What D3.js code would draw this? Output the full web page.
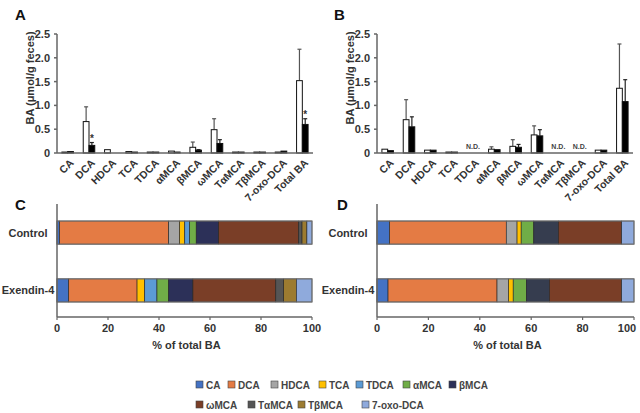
<!DOCTYPE html>
<html><head><meta charset="utf-8">
<script src="https://cdnjs.cloudflare.com/ajax/libs/d3/7.8.5/d3.min.js"></script>
<style>
body{margin:0;background:#fff;}
text{font-family:"Liberation Sans",Arial,sans-serif;font-weight:bold;fill:#333;}
</style></head>
<body><svg id="c" width="640" height="413"></svg>
<script>
const categories = ["CA","DCA","HDCA","TCA","TDCA","αMCA","βMCA","ωMCA","TαMCA","TβMCA","7-oxo-DCA","Total BA"];
// Panel A (null = N.D.)
const aCtrl    = [0.02,0.66,0.07,0.03,0.02,0.04,0.12,0.49,0.02,0.02,0.02,1.52];
const aCtrlErr = [0,0.31,0,0,0,0,0.11,0.23,0,0,0,0.66];
const aEx      = [0.03,0.16,0,0.02,0.02,0.02,0.06,0.20,0.02,0.02,0.04,0.60];
const aExErr   = [0,0.06,0,0,0,0,0.01,0.08,0,0,0,0.12];
const aStar    = [false,true,false,false,false,false,false,false,false,false,false,true];
// Panel B
const bCtrl    = [0.08,0.70,0.06,0.02,null,0.08,0.14,0.38,null,null,0.06,1.36];
const bCtrlErr = [0,0.42,0,0,0,0.05,0.14,0.19,0,0,0,0.93];
const bEx      = [0.05,0.55,0.06,0.02,null,0.07,0.12,0.36,null,null,0.06,1.08];
const bExErr   = [0,0.21,0,0,0,0,0.06,0.13,0,0,0,0.46];
const yTicks = [0,0.5,1.0,1.5,2.0,2.5];
// Panels C, D (% of total BA)
const species = categories.slice(0,11);
const colors = ["#4472C4","#E47B44","#A5A5A5","#FFC000","#5B9BD5","#70AD47","#2C3058","#7A3E27","#555555","#9C7B30","#8FAADC"];
const colorsD = ["#4472C4","#E47B44","#A5A5A5","#FFC000","#5B9BD5","#70AD47","#363D4F","#7A3E27","#555555","#9C7B30","#8FAADC"];
const groups = ["Control","Exendin-4"];
const cControl = [1.0,42.8,4.3,2.0,1.9,2.6,8.8,31.4,1.3,1.9,2.0];
const cExendin = [4.6,26.8,0,3.0,4.8,4.6,9.5,32.5,3.1,5.0,6.1];
const dControl = [4.9,45.4,4.2,1.6,0,4.9,9.6,24.6,0,0,4.8];
const dExendin = [4.3,42.4,4.5,1.8,0,5.1,9.0,28.1,0,0,4.8];
const xTicks = [0,20,40,60,80,100];

const svg = d3.select("#c");
const axisCol = "#666";

function barPanel(ox, label, lx, ctrl, ctrlErr, ex, exErr, star){
  const g = svg.append("g");
  const x0 = ox+57, x1 = ox+313;
  const x = d3.scaleBand().domain(categories).range([x0,x1]).paddingInner(0.46).paddingOuter(0.23);
  const y = d3.scaleLinear().domain([0,2.5]).range([153,34]);
  const bw = x.bandwidth()/2;
  g.append("text").attr("x",ox+lx).attr("y",20).style("font-size","15px").style("fill","#111").text(label);
  g.append("line").attr("x1",x0).attr("x2",x0).attr("y1",y(2.5)).attr("y2",y(0)).attr("stroke",axisCol).attr("stroke-width",1.5);
  yTicks.forEach(t=>{
    g.append("line").attr("x1",x0-3).attr("x2",x0).attr("y1",y(t)).attr("y2",y(t)).attr("stroke",axisCol).attr("stroke-width",1.5);
    g.append("text").attr("x",x0-7).attr("y",y(t)+4).attr("text-anchor","end").style("font-size","11px").text(t===0?"0":t.toFixed(1));
  });
  g.append("text").attr("transform",`translate(${ox+34},78) rotate(-90)`).attr("text-anchor","middle").style("font-size","11px").text("BA (μmol/g feces)");
  categories.forEach((c,i)=>{
    const xc = x(c);
    if(ctrl[i]===null){
      g.append("text").attr("x",xc+bw).attr("y",y(0)-4).attr("text-anchor","middle").style("font-size","7px").style("fill","#444").text("N.D.");
      return;
    }
    const draw=(v,e,xs,fill)=>{
      const ec = fill==="#fff"?"#555":"#222";
      if(e>0){
        g.append("line").attr("x1",xs+bw/2).attr("x2",xs+bw/2).attr("y1",y(v)).attr("y2",y(v+e)).attr("stroke",ec).attr("stroke-width",1.2);
        g.append("line").attr("x1",xs+bw/2-2).attr("x2",xs+bw/2+2).attr("y1",y(v+e)).attr("y2",y(v+e)).attr("stroke",ec).attr("stroke-width",1.2);
      }
      if(v>0) g.append("rect").attr("x",xs).attr("y",y(v)).attr("width",bw).attr("height",y(0)-y(v)).attr("fill",fill).attr("stroke","#111").attr("stroke-width",1);
    };
    draw(ctrl[i],ctrlErr[i],xc,"#fff");
    draw(ex[i],exErr[i],xc+bw,"#000");
    if(star && star[i]){
      g.append("text").attr("x",xc+bw*1.5).attr("y",y(ex[i]+exErr[i])-1).attr("text-anchor","middle").style("font-size","10px").text("*");
    }
  });
  g.append("line").attr("x1",x0).attr("x2",x1).attr("y1",y(0)).attr("y2",y(0)).attr("stroke",axisCol).attr("stroke-width",1.5);
  categories.forEach(c=>{
    g.append("text").attr("transform",`translate(${x(c)+bw+4},${y(0)+8}) rotate(-45)`).attr("text-anchor","end").attr("dy","0.35em").style("font-size","10.5px").text(c);
  });
}
barPanel(0,"A",15,aCtrl,aCtrlErr,aEx,aExErr,aStar);
barPanel(320,"B",14,bCtrl,bCtrlErr,bEx,bExErr,null);

function stackPanel(ox, right, label, lx, rows, cols){
  const g = svg.append("g");
  const x0 = ox+57;
  const x = d3.scaleLinear().domain([0,100]).range([x0,ox+right]);
  const y = d3.scaleBand().domain(groups).range([221,302]).paddingInner(0.6).paddingOuter(0);
  g.append("text").attr("x",ox+lx).attr("y",210).style("font-size","15px").style("fill","#111").text(label);
  rows.forEach((vals,ri)=>{
    let acc=0;
    const yy = y(groups[ri]);
    vals.forEach((v,k)=>{
      if(v>0){
        g.append("rect").attr("x",x(acc)).attr("y",yy).attr("width",x(acc+v)-x(acc)).attr("height",y.bandwidth()).attr("fill",cols[k]).attr("stroke","#222").attr("stroke-width",0.6);
      }
      acc+=v;
    });
    g.append("rect").attr("x",x(0)).attr("y",yy).attr("width",x(100)-x(0)).attr("height",y.bandwidth()).attr("fill","none").attr("stroke","#777").attr("stroke-width",1);
    g.append("text").attr("x",ox+28).attr("y",yy+y.bandwidth()/2+4).attr("text-anchor","middle").style("font-size","11px").text(groups[ri]);
  });
  g.append("line").attr("x1",x0).attr("x2",x0).attr("y1",204).attr("y2",317).attr("stroke",axisCol).attr("stroke-width",1.5);
  g.append("line").attr("x1",x0).attr("x2",x(100)).attr("y1",317).attr("y2",317).attr("stroke",axisCol).attr("stroke-width",1.5);
  xTicks.forEach(t=>{
    g.append("line").attr("x1",x(t)).attr("x2",x(t)).attr("y1",317).attr("y2",320).attr("stroke",axisCol).attr("stroke-width",1.2);
    g.append("text").attr("x",Math.min(x(t),627)).attr("y",332).attr("text-anchor","middle").style("font-size","11px").text(t);
  });
  g.append("text").attr("x",(x0+x(100))/2+2).attr("y",349).attr("text-anchor","middle").style("font-size","11px").text("% of total BA");
}
stackPanel(0,312,"C",15,[cControl,cExendin],colors);
stackPanel(320,314,"D",17,[dControl,dExendin],colorsD);

const legX = [196,228,271,319,356,403,449,196,248,298,362];
const legY = [385,385,385,385,385,385,385,405,405,405,405];
species.forEach((s,k)=>{
  svg.append("rect").attr("x",legX[k]).attr("y",legY[k]-4).attr("width",7).attr("height",7).attr("fill",colors[k]).attr("stroke","#444").attr("stroke-width",0.6);
  svg.append("text").attr("x",legX[k]+10).attr("y",legY[k]+3.5).style("font-size","10px").style("fill","#444").text(s);
});
</script></body></html>
